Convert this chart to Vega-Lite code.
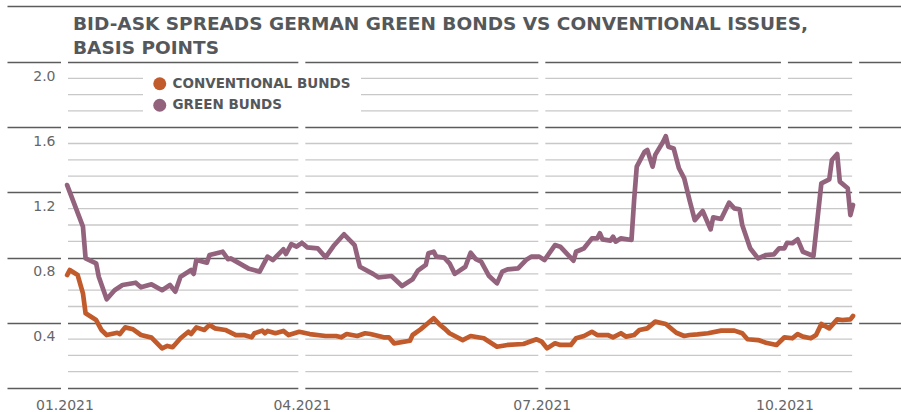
{
  "$schema": "https://vega.github.io/schema/vega-lite/v6.json",
  "width": 894,
  "height": 326,
  "autosize": {"type": "none"},
  "padding": {"left": 7, "top": 62, "right": 0, "bottom": 24},
  "background": "white",
  "config": {"view": {"stroke": null}, "font": "DejaVu Sans"},
  "title": {
    "text": ["BID-ASK SPREADS GERMAN GREEN BONDS VS CONVENTIONAL ISSUES,", "BASIS POINTS"],
    "anchor": "start",
    "frame": "group",
    "dx": 66,
    "offset": -51,
    "font": "DejaVu Sans",
    "fontSize": 18.5,
    "fontWeight": "bold",
    "color": "#55585b",
    "lineHeight": 23.5
  },
  "datasets": {
    "minor": [
      {"v": 0.1}, {"v": 0.2}, {"v": 0.3}, {"v": 0.5}, {"v": 0.6}, {"v": 0.7},
      {"v": 0.9}, {"v": 1.0}, {"v": 1.1}, {"v": 1.3}, {"v": 1.4}, {"v": 1.5},
      {"v": 1.7}, {"v": 1.8}, {"v": 1.9}
    ],
    "gaps": [
      {"date": "2021-01-01"}, {"date": "2021-04-01"}, {"date": "2021-07-01"}, {"date": "2021-10-01"}, {"date": "2021-10-28"}
    ],
    "spreads": [
      {"date": "2021-01-02", "series": "Green Bunds", "spread": 1.245},
      {"date": "2021-01-08", "series": "Green Bunds", "spread": 0.99},
      {"date": "2021-01-09", "series": "Green Bunds", "spread": 0.795},
      {"date": "2021-01-13", "series": "Green Bunds", "spread": 0.765},
      {"date": "2021-01-14", "series": "Green Bunds", "spread": 0.683},
      {"date": "2021-01-17", "series": "Green Bunds", "spread": 0.544},
      {"date": "2021-01-20", "series": "Green Bunds", "spread": 0.60},
      {"date": "2021-01-23", "series": "Green Bunds", "spread": 0.632},
      {"date": "2021-01-28", "series": "Green Bunds", "spread": 0.646},
      {"date": "2021-01-30", "series": "Green Bunds", "spread": 0.618},
      {"date": "2021-02-03", "series": "Green Bunds", "spread": 0.636},
      {"date": "2021-02-07", "series": "Green Bunds", "spread": 0.60},
      {"date": "2021-02-10", "series": "Green Bunds", "spread": 0.632},
      {"date": "2021-02-12", "series": "Green Bunds", "spread": 0.591},
      {"date": "2021-02-14", "series": "Green Bunds", "spread": 0.683},
      {"date": "2021-02-18", "series": "Green Bunds", "spread": 0.724},
      {"date": "2021-02-19", "series": "Green Bunds", "spread": 0.70},
      {"date": "2021-02-20", "series": "Green Bunds", "spread": 0.785},
      {"date": "2021-02-24", "series": "Green Bunds", "spread": 0.769},
      {"date": "2021-02-25", "series": "Green Bunds", "spread": 0.816},
      {"date": "2021-03-02", "series": "Green Bunds", "spread": 0.836},
      {"date": "2021-03-04", "series": "Green Bunds", "spread": 0.79},
      {"date": "2021-03-05", "series": "Green Bunds", "spread": 0.795},
      {"date": "2021-03-12", "series": "Green Bunds", "spread": 0.731},
      {"date": "2021-03-16", "series": "Green Bunds", "spread": 0.714},
      {"date": "2021-03-19", "series": "Green Bunds", "spread": 0.806},
      {"date": "2021-03-21", "series": "Green Bunds", "spread": 0.785},
      {"date": "2021-03-25", "series": "Green Bunds", "spread": 0.851},
      {"date": "2021-03-26", "series": "Green Bunds", "spread": 0.822},
      {"date": "2021-03-28", "series": "Green Bunds", "spread": 0.883},
      {"date": "2021-03-30", "series": "Green Bunds", "spread": 0.867},
      {"date": "2021-04-01", "series": "Green Bunds", "spread": 0.891},
      {"date": "2021-04-03", "series": "Green Bunds", "spread": 0.863},
      {"date": "2021-04-07", "series": "Green Bunds", "spread": 0.857},
      {"date": "2021-04-10", "series": "Green Bunds", "spread": 0.802},
      {"date": "2021-04-13", "series": "Green Bunds", "spread": 0.871},
      {"date": "2021-04-17", "series": "Green Bunds", "spread": 0.943},
      {"date": "2021-04-21", "series": "Green Bunds", "spread": 0.877},
      {"date": "2021-04-23", "series": "Green Bunds", "spread": 0.744},
      {"date": "2021-04-28", "series": "Green Bunds", "spread": 0.70},
      {"date": "2021-04-30", "series": "Green Bunds", "spread": 0.679},
      {"date": "2021-05-05", "series": "Green Bunds", "spread": 0.687},
      {"date": "2021-05-09", "series": "Green Bunds", "spread": 0.626},
      {"date": "2021-05-13", "series": "Green Bunds", "spread": 0.667},
      {"date": "2021-05-15", "series": "Green Bunds", "spread": 0.72},
      {"date": "2021-05-18", "series": "Green Bunds", "spread": 0.755},
      {"date": "2021-05-19", "series": "Green Bunds", "spread": 0.826},
      {"date": "2021-05-21", "series": "Green Bunds", "spread": 0.836},
      {"date": "2021-05-22", "series": "Green Bunds", "spread": 0.806},
      {"date": "2021-05-25", "series": "Green Bunds", "spread": 0.80},
      {"date": "2021-05-27", "series": "Green Bunds", "spread": 0.765},
      {"date": "2021-05-29", "series": "Green Bunds", "spread": 0.70},
      {"date": "2021-06-02", "series": "Green Bunds", "spread": 0.744},
      {"date": "2021-06-04", "series": "Green Bunds", "spread": 0.83},
      {"date": "2021-06-06", "series": "Green Bunds", "spread": 0.79},
      {"date": "2021-06-08", "series": "Green Bunds", "spread": 0.775},
      {"date": "2021-06-11", "series": "Green Bunds", "spread": 0.687},
      {"date": "2021-06-14", "series": "Green Bunds", "spread": 0.642},
      {"date": "2021-06-16", "series": "Green Bunds", "spread": 0.714},
      {"date": "2021-06-18", "series": "Green Bunds", "spread": 0.728},
      {"date": "2021-06-22", "series": "Green Bunds", "spread": 0.734},
      {"date": "2021-06-25", "series": "Green Bunds", "spread": 0.785},
      {"date": "2021-06-27", "series": "Green Bunds", "spread": 0.806},
      {"date": "2021-06-30", "series": "Green Bunds", "spread": 0.806},
      {"date": "2021-07-02", "series": "Green Bunds", "spread": 0.785},
      {"date": "2021-07-06", "series": "Green Bunds", "spread": 0.877},
      {"date": "2021-07-08", "series": "Green Bunds", "spread": 0.867},
      {"date": "2021-07-13", "series": "Green Bunds", "spread": 0.781},
      {"date": "2021-07-14", "series": "Green Bunds", "spread": 0.836},
      {"date": "2021-07-17", "series": "Green Bunds", "spread": 0.857},
      {"date": "2021-07-20", "series": "Green Bunds", "spread": 0.918},
      {"date": "2021-07-22", "series": "Green Bunds", "spread": 0.918},
      {"date": "2021-07-23", "series": "Green Bunds", "spread": 0.949},
      {"date": "2021-07-24", "series": "Green Bunds", "spread": 0.912},
      {"date": "2021-07-27", "series": "Green Bunds", "spread": 0.904},
      {"date": "2021-07-28", "series": "Green Bunds", "spread": 0.928},
      {"date": "2021-07-29", "series": "Green Bunds", "spread": 0.898},
      {"date": "2021-07-31", "series": "Green Bunds", "spread": 0.918},
      {"date": "2021-08-04", "series": "Green Bunds", "spread": 0.908},
      {"date": "2021-08-05", "series": "Green Bunds", "spread": 1.153},
      {"date": "2021-08-06", "series": "Green Bunds", "spread": 1.358},
      {"date": "2021-08-09", "series": "Green Bunds", "spread": 1.45},
      {"date": "2021-08-10", "series": "Green Bunds", "spread": 1.46},
      {"date": "2021-08-12", "series": "Green Bunds", "spread": 1.358},
      {"date": "2021-08-13", "series": "Green Bunds", "spread": 1.43},
      {"date": "2021-08-16", "series": "Green Bunds", "spread": 1.511},
      {"date": "2021-08-17", "series": "Green Bunds", "spread": 1.545},
      {"date": "2021-08-18", "series": "Green Bunds", "spread": 1.48},
      {"date": "2021-08-20", "series": "Green Bunds", "spread": 1.47},
      {"date": "2021-08-22", "series": "Green Bunds", "spread": 1.348},
      {"date": "2021-08-24", "series": "Green Bunds", "spread": 1.286},
      {"date": "2021-08-26", "series": "Green Bunds", "spread": 1.153},
      {"date": "2021-08-28", "series": "Green Bunds", "spread": 1.03},
      {"date": "2021-08-31", "series": "Green Bunds", "spread": 1.086},
      {"date": "2021-09-03", "series": "Green Bunds", "spread": 0.973},
      {"date": "2021-09-04", "series": "Green Bunds", "spread": 1.047},
      {"date": "2021-09-07", "series": "Green Bunds", "spread": 1.037},
      {"date": "2021-09-10", "series": "Green Bunds", "spread": 1.137},
      {"date": "2021-09-12", "series": "Green Bunds", "spread": 1.102},
      {"date": "2021-09-14", "series": "Green Bunds", "spread": 1.096},
      {"date": "2021-09-15", "series": "Green Bunds", "spread": 1.0},
      {"date": "2021-09-18", "series": "Green Bunds", "spread": 0.857},
      {"date": "2021-09-21", "series": "Green Bunds", "spread": 0.795},
      {"date": "2021-09-24", "series": "Green Bunds", "spread": 0.816},
      {"date": "2021-09-27", "series": "Green Bunds", "spread": 0.82},
      {"date": "2021-09-29", "series": "Green Bunds", "spread": 0.857},
      {"date": "2021-10-01", "series": "Green Bunds", "spread": 0.857},
      {"date": "2021-10-02", "series": "Green Bunds", "spread": 0.891},
      {"date": "2021-10-04", "series": "Green Bunds", "spread": 0.888},
      {"date": "2021-10-06", "series": "Green Bunds", "spread": 0.912},
      {"date": "2021-10-08", "series": "Green Bunds", "spread": 0.836},
      {"date": "2021-10-12", "series": "Green Bunds", "spread": 0.81},
      {"date": "2021-10-15", "series": "Green Bunds", "spread": 1.256},
      {"date": "2021-10-18", "series": "Green Bunds", "spread": 1.28},
      {"date": "2021-10-19", "series": "Green Bunds", "spread": 1.399},
      {"date": "2021-10-21", "series": "Green Bunds", "spread": 1.436},
      {"date": "2021-10-22", "series": "Green Bunds", "spread": 1.266},
      {"date": "2021-10-25", "series": "Green Bunds", "spread": 1.225},
      {"date": "2021-10-26", "series": "Green Bunds", "spread": 1.061},
      {"date": "2021-10-27", "series": "Green Bunds", "spread": 1.123},
      {"date": "2021-01-02", "series": "Conventional Bunds", "spread": 0.693},
      {"date": "2021-01-03", "series": "Conventional Bunds", "spread": 0.724},
      {"date": "2021-01-06", "series": "Conventional Bunds", "spread": 0.693},
      {"date": "2021-01-08", "series": "Conventional Bunds", "spread": 0.581},
      {"date": "2021-01-09", "series": "Conventional Bunds", "spread": 0.458},
      {"date": "2021-01-13", "series": "Conventional Bunds", "spread": 0.417},
      {"date": "2021-01-15", "series": "Conventional Bunds", "spread": 0.356},
      {"date": "2021-01-17", "series": "Conventional Bunds", "spread": 0.325},
      {"date": "2021-01-21", "series": "Conventional Bunds", "spread": 0.339},
      {"date": "2021-01-22", "series": "Conventional Bunds", "spread": 0.331},
      {"date": "2021-01-24", "series": "Conventional Bunds", "spread": 0.372},
      {"date": "2021-01-27", "series": "Conventional Bunds", "spread": 0.36},
      {"date": "2021-01-30", "series": "Conventional Bunds", "spread": 0.325},
      {"date": "2021-02-03", "series": "Conventional Bunds", "spread": 0.309},
      {"date": "2021-02-07", "series": "Conventional Bunds", "spread": 0.243},
      {"date": "2021-02-09", "series": "Conventional Bunds", "spread": 0.258},
      {"date": "2021-02-11", "series": "Conventional Bunds", "spread": 0.25},
      {"date": "2021-02-14", "series": "Conventional Bunds", "spread": 0.305},
      {"date": "2021-02-17", "series": "Conventional Bunds", "spread": 0.345},
      {"date": "2021-02-18", "series": "Conventional Bunds", "spread": 0.331},
      {"date": "2021-02-20", "series": "Conventional Bunds", "spread": 0.372},
      {"date": "2021-02-23", "series": "Conventional Bunds", "spread": 0.356},
      {"date": "2021-02-25", "series": "Conventional Bunds", "spread": 0.387},
      {"date": "2021-02-27", "series": "Conventional Bunds", "spread": 0.366},
      {"date": "2021-03-03", "series": "Conventional Bunds", "spread": 0.356},
      {"date": "2021-03-07", "series": "Conventional Bunds", "spread": 0.325},
      {"date": "2021-03-10", "series": "Conventional Bunds", "spread": 0.325},
      {"date": "2021-03-13", "series": "Conventional Bunds", "spread": 0.311},
      {"date": "2021-03-14", "series": "Conventional Bunds", "spread": 0.336},
      {"date": "2021-03-17", "series": "Conventional Bunds", "spread": 0.352},
      {"date": "2021-03-18", "series": "Conventional Bunds", "spread": 0.336},
      {"date": "2021-03-19", "series": "Conventional Bunds", "spread": 0.35},
      {"date": "2021-03-22", "series": "Conventional Bunds", "spread": 0.336},
      {"date": "2021-03-25", "series": "Conventional Bunds", "spread": 0.35},
      {"date": "2021-03-27", "series": "Conventional Bunds", "spread": 0.325},
      {"date": "2021-03-31", "series": "Conventional Bunds", "spread": 0.345},
      {"date": "2021-04-04", "series": "Conventional Bunds", "spread": 0.331},
      {"date": "2021-04-10", "series": "Conventional Bunds", "spread": 0.319},
      {"date": "2021-04-14", "series": "Conventional Bunds", "spread": 0.319},
      {"date": "2021-04-16", "series": "Conventional Bunds", "spread": 0.311},
      {"date": "2021-04-18", "series": "Conventional Bunds", "spread": 0.331},
      {"date": "2021-04-22", "series": "Conventional Bunds", "spread": 0.319},
      {"date": "2021-04-25", "series": "Conventional Bunds", "spread": 0.336},
      {"date": "2021-04-27", "series": "Conventional Bunds", "spread": 0.331},
      {"date": "2021-05-02", "series": "Conventional Bunds", "spread": 0.311},
      {"date": "2021-05-04", "series": "Conventional Bunds", "spread": 0.311},
      {"date": "2021-05-06", "series": "Conventional Bunds", "spread": 0.274},
      {"date": "2021-05-12", "series": "Conventional Bunds", "spread": 0.29},
      {"date": "2021-05-13", "series": "Conventional Bunds", "spread": 0.325},
      {"date": "2021-05-16", "series": "Conventional Bunds", "spread": 0.36},
      {"date": "2021-05-19", "series": "Conventional Bunds", "spread": 0.40},
      {"date": "2021-05-21", "series": "Conventional Bunds", "spread": 0.428},
      {"date": "2021-05-23", "series": "Conventional Bunds", "spread": 0.393},
      {"date": "2021-05-25", "series": "Conventional Bunds", "spread": 0.366},
      {"date": "2021-05-27", "series": "Conventional Bunds", "spread": 0.336},
      {"date": "2021-06-01", "series": "Conventional Bunds", "spread": 0.294},
      {"date": "2021-06-04", "series": "Conventional Bunds", "spread": 0.319},
      {"date": "2021-06-09", "series": "Conventional Bunds", "spread": 0.305},
      {"date": "2021-06-14", "series": "Conventional Bunds", "spread": 0.253},
      {"date": "2021-06-18", "series": "Conventional Bunds", "spread": 0.264},
      {"date": "2021-06-24", "series": "Conventional Bunds", "spread": 0.27},
      {"date": "2021-06-29", "series": "Conventional Bunds", "spread": 0.299},
      {"date": "2021-07-01", "series": "Conventional Bunds", "spread": 0.284},
      {"date": "2021-07-03", "series": "Conventional Bunds", "spread": 0.243},
      {"date": "2021-07-06", "series": "Conventional Bunds", "spread": 0.274},
      {"date": "2021-07-08", "series": "Conventional Bunds", "spread": 0.264},
      {"date": "2021-07-12", "series": "Conventional Bunds", "spread": 0.264},
      {"date": "2021-07-14", "series": "Conventional Bunds", "spread": 0.305},
      {"date": "2021-07-17", "series": "Conventional Bunds", "spread": 0.319},
      {"date": "2021-07-20", "series": "Conventional Bunds", "spread": 0.345},
      {"date": "2021-07-22", "series": "Conventional Bunds", "spread": 0.325},
      {"date": "2021-07-26", "series": "Conventional Bunds", "spread": 0.325},
      {"date": "2021-07-28", "series": "Conventional Bunds", "spread": 0.311},
      {"date": "2021-07-31", "series": "Conventional Bunds", "spread": 0.336},
      {"date": "2021-08-02", "series": "Conventional Bunds", "spread": 0.315},
      {"date": "2021-08-05", "series": "Conventional Bunds", "spread": 0.325},
      {"date": "2021-08-07", "series": "Conventional Bunds", "spread": 0.356},
      {"date": "2021-08-10", "series": "Conventional Bunds", "spread": 0.366},
      {"date": "2021-08-13", "series": "Conventional Bunds", "spread": 0.407},
      {"date": "2021-08-17", "series": "Conventional Bunds", "spread": 0.393},
      {"date": "2021-08-21", "series": "Conventional Bunds", "spread": 0.339},
      {"date": "2021-08-24", "series": "Conventional Bunds", "spread": 0.319},
      {"date": "2021-08-26", "series": "Conventional Bunds", "spread": 0.325},
      {"date": "2021-08-29", "series": "Conventional Bunds", "spread": 0.329},
      {"date": "2021-09-02", "series": "Conventional Bunds", "spread": 0.336},
      {"date": "2021-09-07", "series": "Conventional Bunds", "spread": 0.352},
      {"date": "2021-09-12", "series": "Conventional Bunds", "spread": 0.352},
      {"date": "2021-09-15", "series": "Conventional Bunds", "spread": 0.336},
      {"date": "2021-09-17", "series": "Conventional Bunds", "spread": 0.299},
      {"date": "2021-09-21", "series": "Conventional Bunds", "spread": 0.294},
      {"date": "2021-09-24", "series": "Conventional Bunds", "spread": 0.278},
      {"date": "2021-09-28", "series": "Conventional Bunds", "spread": 0.264},
      {"date": "2021-10-01", "series": "Conventional Bunds", "spread": 0.311},
      {"date": "2021-10-04", "series": "Conventional Bunds", "spread": 0.305},
      {"date": "2021-10-06", "series": "Conventional Bunds", "spread": 0.331},
      {"date": "2021-10-08", "series": "Conventional Bunds", "spread": 0.315},
      {"date": "2021-10-11", "series": "Conventional Bunds", "spread": 0.305},
      {"date": "2021-10-13", "series": "Conventional Bunds", "spread": 0.325},
      {"date": "2021-10-15", "series": "Conventional Bunds", "spread": 0.393},
      {"date": "2021-10-18", "series": "Conventional Bunds", "spread": 0.366},
      {"date": "2021-10-21", "series": "Conventional Bunds", "spread": 0.421},
      {"date": "2021-10-23", "series": "Conventional Bunds", "spread": 0.417},
      {"date": "2021-10-26", "series": "Conventional Bunds", "spread": 0.421},
      {"date": "2021-10-27", "series": "Conventional Bunds", "spread": 0.442}
    ]
  },
  "layer": [
    {
      "data": {"name": "minor"},
      "mark": {"type": "rule", "color": "#c8c8c8", "strokeWidth": 1.3},
      "encoding": {
        "y": {"field": "v", "type": "quantitative", "scale": {"domain": [0, 2], "nice": false}, "axis": null},
        "x": {"datum": {"year": 2021, "month": 1, "date": 1, "utc": true}, "type": "temporal", "scale": {"type": "utc", "domain": [1607575680000, 1636865280000], "nice": false}, "axis": null},
        "x2": {"datum": {"year": 2021, "month": 10, "date": 28, "utc": true}}
      }
    },
    {
      "data": {"name": "gaps"},
      "mark": {"type": "rule", "color": "white", "strokeWidth": 7, "strokeCap": "square"},
      "encoding": {
        "x": {"field": "date", "type": "temporal", "scale": {"type": "utc", "domain": [1607575680000, 1636865280000], "nice": false},
              "axis": {"orient": "top", "offset": 56, "domain": true, "domainColor": "#5c5c5c", "domainWidth": 1.5, "labels": false, "ticks": false, "grid": false, "title": null}},
        "y": {"datum": 0, "type": "quantitative", "scale": {"domain": [0, 2], "nice": false}, "axis": null},
        "y2": {"datum": 2}
      }
    },
    {
      "data": {"name": "spreads"},
      "mark": {"type": "line", "strokeWidth": 4.7, "strokeCap": "round", "strokeJoin": "round"},
      "encoding": {
        "x": {"field": "date", "type": "temporal", "scale": {"type": "utc", "domain": [1607575680000, 1636865280000], "nice": false},
              "axis": {"orient": "bottom", "values": [{"year": 2021, "month": 1, "date": 1, "utc": true}, {"year": 2021, "month": 4, "date": 1, "utc": true}, {"year": 2021, "month": 7, "date": 1, "utc": true}, {"year": 2021, "month": 10, "date": 1, "utc": true}],
                       "format": "%m.%Y", "domain": false, "ticks": false, "grid": false, "labelPadding": 10, "labelFontSize": 14, "labelColor": "#666666", "labelFont": "DejaVu Sans", "labelFlush": false, "title": null}},
        "y": {"field": "spread", "type": "quantitative", "scale": {"domain": [0, 2], "nice": false},
              "axis": {"values": [0, 0.4, 0.8, 1.2, 1.6, 2.0], "labelExpr": "datum.value == 0 ? '' : format(datum.value, '.1f')", "grid": true, "gridColor": "#5c5c5c", "gridWidth": 1.5, "domain": false, "ticks": false, "offset": -48, "labelPadding": 0, "labelOffset": 14, "labelBaseline": "middle", "labelFontSize": 14, "labelColor": "#666666", "labelFont": "DejaVu Sans", "labelFlush": false, "labelOverlap": false, "title": null}},
        "color": {"field": "series", "type": "nominal",
                  "scale": {"domain": ["Conventional Bunds", "Green Bunds"], "range": ["#c25b2c", "#93637d"]},
                  "legend": {"title": null, "orient": "none", "legendX": 136, "legendY": 5, "direction": "vertical", "fillColor": "white", "padding": 10,
                             "symbolType": "circle", "symbolSize": 169, "symbolStrokeWidth": 0, "symbolOpacity": 1,
                             "labelFont": "DejaVu Sans", "labelFontSize": 13.5, "labelFontWeight": "bold", "labelColor": "#55585b", "labelLimit": 400,
                             "labelExpr": "upper(datum.label)", "rowPadding": 6.5, "labelOffset": 6,
                             "encode": {"symbols": {"update": {"fill": {"scale": "color", "field": "value"}, "fillOpacity": {"value": 1}}}}}}
      }
    }
  ],
  "resolve": {"axis": {"x": "independent", "y": "independent"}}
}
